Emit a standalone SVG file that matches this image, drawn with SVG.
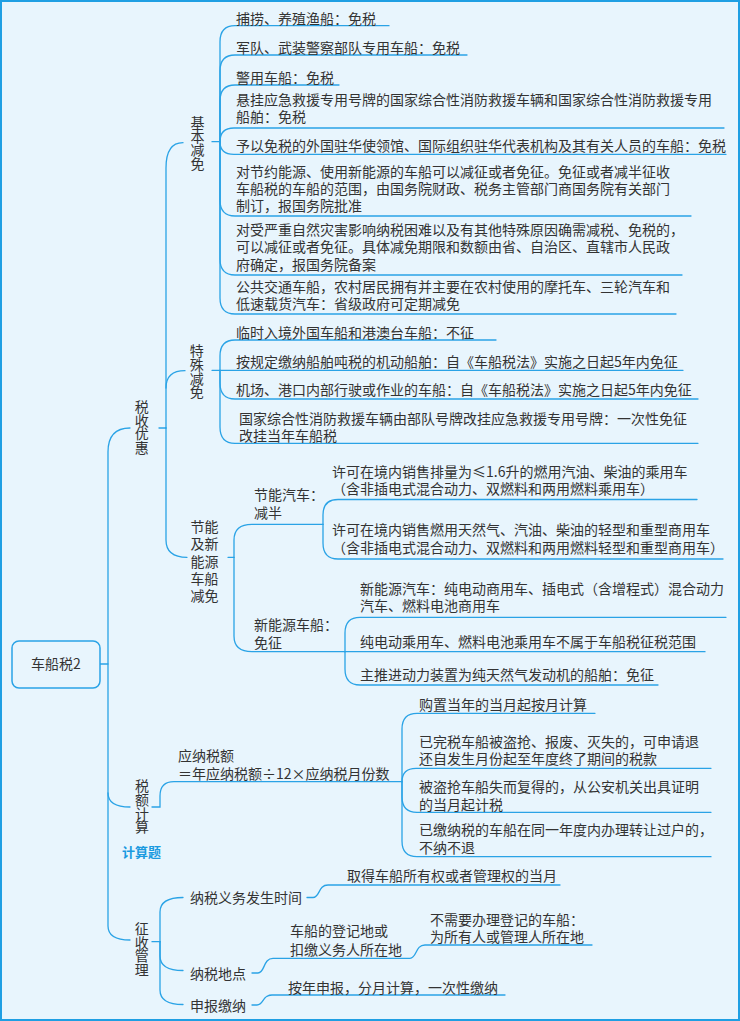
<svg xmlns="http://www.w3.org/2000/svg" width="740" height="1021" viewBox="0 0 740 1021">
<style>
.ln{fill:none;stroke:#2aa3e6;stroke-width:1.3;stroke-linecap:round}
.t{font-family:"Noto Sans CJK SC","Noto Sans",sans-serif;font-size:14px;fill:#333}
.v{writing-mode:vertical-rl;letter-spacing:-0.3px}
.tag{font-family:"Noto Sans CJK SC","Noto Sans",sans-serif;font-size:13px;font-weight:bold;fill:#1a9ae0}
</style>
<rect x="1" y="1" width="738" height="1019" fill="#e8f5fd" stroke="#1f9fe3" stroke-width="2"/>

<g id="connectors" class="ln">
<path d="M130,428 Q108,428 108,452 V926 Q108,940 130,940"/>
<path d="M100,664 H108"/>
<path d="M108,793 Q108,807 130,807"/>
<path d="M159,428 H166"/>
<path d="M166,428 V168 Q166,142.7 183,142.7"/>
<path d="M166,388 Q166,370.7 185,370.7"/>
<path d="M166,428 V540 Q166,557.3 187,557.3"/>
<path d="M212,141.7 H220 V41.7 Q220,25.7 235,25.7 H389"/>
<path d="M220,141.7 V71 Q220,55 235,55 H467"/>
<path d="M220,141.7 V101 Q220,85 235,85 H339"/>
<path d="M220,141.7 Q220,128 234,128 H724"/>
<path d="M220,141.7 Q220,154.3 234,154.3 H726"/>
<path d="M220,141.7 V200 Q220,216 235,216 H691"/>
<path d="M220,141.7 V259 Q220,275 235,275 H682"/>
<path d="M220,141.7 V298 Q220,314 235,314 H676"/>
<path d="M212,370.3 H683"/>
<path d="M220,370.3 V356 Q220,340 235,340 H496"/>
<path d="M220,370.3 V383 Q220,399 235,399 H698"/>
<path d="M220,370.3 V427 Q220,443.3 235,443.3 H698"/>
<path d="M228,557.3 H234"/>
<path d="M234,557.3 V540 Q234,524.3 252,524.3 H323"/>
<path d="M234,557.3 V636 Q234,651.7 252,651.7 H345"/>
<path d="M323,524.3 V515 Q323,499.5 338,499.5 H697"/>
<path d="M323,524.3 V543 Q323,559 338,559 H723"/>
<path d="M345,651.7 V633 Q345,617.3 360,617.3 H726"/>
<path d="M345,651.7 H705"/>
<path d="M345,651.7 V669 Q345,685 360,685 H658"/>
<path d="M152,807 H160 V796 Q160,781.7 174,781.7 H402"/>
<path d="M402,781.7 V729 Q402,713.3 417,713.3 H595"/>
<path d="M402,781.7 Q402,768.3 416,768.3 H711"/>
<path d="M402,781.7 V797 Q402,812.3 417,812.3 H711"/>
<path d="M402,781.7 V841 Q402,856.7 417,856.7 H711"/>
<path d="M152,941.7 H160"/>
<path d="M160,941.7 V912 Q160,897.5 183,897.5"/>
<path d="M160,941.7 V956 Q160,970.5 183,970.5"/>
<path d="M160,941.7 V990 Q160,1004.5 183,1004.5"/>
<path d="M307,897.5 H313 C320,897.5 318,885 328,885 H560"/>
<path d="M252,973 H258 C265,973 263,958.3 273,958.3 H410 C417,958.3 415,945 425,945 H592"/>
<path d="M252,1005 H257 C264,1005 262,995 272,995 H505"/>
</g>

<g id="root">
<rect x="12" y="641" width="88" height="47" rx="7" fill="#e8f5fd" stroke="#2aa3e6" stroke-width="1.5"/>
<text class="t" x="56" y="669" text-anchor="middle">车船税2</text>
</g>

<g id="n-shuishou"><text class="t v" x="141.7" y="399.5">税收优惠</text></g>
<g id="n-jiben"><text class="t v" x="197.5" y="115.5">基本减免</text></g>
<g id="n-teshu"><text class="t v" x="196.7" y="344">特殊减免</text></g>
<g id="n-jieneng"><text class="t"><tspan x="190.5" y="532.2">节能</tspan><tspan x="190.5" y="549.4">及新</tspan><tspan x="190.5" y="566.6">能源</tspan><tspan x="190.5" y="583.8">车船</tspan><tspan x="190.5" y="601">减免</tspan></text></g>

<g id="b1"><text class="t" x="236" y="23.7">捕捞、养殖渔船：免税</text></g>
<g id="b2"><text class="t" x="236" y="53.2">军队、武装警察部队专用车船：免税</text></g>
<g id="b3"><text class="t" x="236" y="83.2">警用车船：免税</text></g>
<g id="b4"><text class="t"><tspan x="236" y="104.5">悬挂应急救援专用号牌的国家综合性消防救援车辆和国家综合性消防救援专用</tspan><tspan x="236" y="121.9">船舶：免税</tspan></text></g>
<g id="b5"><text class="t" x="236" y="150.9">予以免税的外国驻华使领馆、国际组织驻华代表机构及其有关人员的车船：免税</text></g>
<g id="b6"><text class="t"><tspan x="236" y="177">对节约能源、使用新能源的车船可以减征或者免征。免征或者减半征收</tspan><tspan x="236" y="194.2">车船税的车船的范围，由国务院财政、税务主管部门商国务院有关部门</tspan><tspan x="236" y="211.4">制订，报国务院批准</tspan></text></g>
<g id="b7"><text class="t"><tspan x="236" y="235.2">对受严重自然灾害影响纳税困难以及有其他特殊原因确需减税、免税的，</tspan><tspan x="236" y="252.4">可以减征或者免征。具体减免期限和数额由省、自治区、直辖市人民政</tspan><tspan x="236" y="270.2">府确定，报国务院备案</tspan></text></g>
<g id="b8"><text class="t"><tspan x="236" y="292">公共交通车船，农村居民拥有并主要在农村使用的摩托车、三轮汽车和</tspan><tspan x="236" y="309.2">低速载货汽车：省级政府可定期减免</tspan></text></g>

<g id="s1"><text class="t" x="236" y="338">临时入境外国车船和港澳台车船：不征</text></g>
<g id="s2"><text class="t" x="236" y="367">按规定缴纳船舶吨税的机动船舶：自《车船税法》实施之日起5年内免征</text></g>
<g id="s3"><text class="t" x="236" y="395.2">机场、港口内部行驶或作业的车船：自《车船税法》实施之日起5年内免征</text></g>
<g id="s4"><text class="t"><tspan x="239" y="423.5">国家综合性消防救援车辆由部队号牌改挂应急救援专用号牌：一次性免征</tspan><tspan x="239" y="440.9">改挂当年车船税</tspan></text></g>

<g id="e1"><text class="t"><tspan x="254" y="500.3">节能汽车：</tspan><tspan x="254" y="517.5">减半</tspan></text></g>
<g id="e1a"><text class="t"><tspan x="332" y="476.8">许可在境内销售排量为≤1.6升的燃用汽油、柴油的乘用车</tspan><tspan x="332" y="494">（含非插电式混合动力、双燃料和两用燃料乘用车）</tspan></text></g>
<g id="e1b"><text class="t"><tspan x="332" y="535.2">许可在境内销售燃用天然气、汽油、柴油的轻型和重型商用车</tspan><tspan x="332" y="552.5">（含非插电式混合动力、双燃料和两用燃料轻型和重型商用车）</tspan></text></g>
<g id="e2"><text class="t"><tspan x="254" y="630.3">新能源车船：</tspan><tspan x="254" y="647.5">免征</tspan></text></g>
<g id="e2a"><text class="t"><tspan x="360" y="593.8">新能源汽车：纯电动商用车、插电式（含增程式）混合动力</tspan><tspan x="360" y="611">汽车、燃料电池商用车</tspan></text></g>
<g id="e2b"><text class="t" x="360" y="646.9">纯电动乘用车、燃料电池乘用车不属于车船税征税范围</text></g>
<g id="e2c"><text class="t" x="360" y="680.2">主推进动力装置为纯天然气发动机的船舶：免征</text></g>

<g id="n-shuie"><text class="t v" x="142" y="779">税额计算</text>
<text class="tag" x="122" y="856.5">计算题</text></g>
<g id="f0"><text class="t"><tspan x="178" y="761">应纳税额</tspan><tspan x="178" y="778.5">＝年应纳税额÷12×应纳税月份数</tspan></text></g>
<g id="f1"><text class="t" x="419" y="710.2">购置当年的当月起按月计算</text></g>
<g id="f2"><text class="t"><tspan x="419" y="746.9">已完税车船被盗抢、报废、灭失的，可申请退</tspan><tspan x="419" y="764.2">还自发生月份起至年度终了期间的税款</tspan></text></g>
<g id="f3"><text class="t"><tspan x="419" y="792.4">被盗抢车船失而复得的，从公安机关出具证明</tspan><tspan x="419" y="809.6">的当月起计税</tspan></text></g>
<g id="f4"><text class="t"><tspan x="419" y="835.2">已缴纳税的车船在同一年度内办理转让过户的，</tspan><tspan x="419" y="852.5">不纳不退</tspan></text></g>

<g id="n-zhengshou"><text class="t v" x="141.7" y="921.5">征收管理</text></g>
<g id="z1"><text class="t" x="190" y="903.2">纳税义务发生时间</text></g>
<g id="z1a"><text class="t" x="347" y="881.2">取得车船所有权或者管理权的当月</text></g>
<g id="z2"><text class="t" x="190" y="978.5">纳税地点</text></g>
<g id="z2a"><text class="t"><tspan x="290" y="936.2">车船的登记地或</tspan><tspan x="290" y="954.5">扣缴义务人所在地</tspan></text></g>
<g id="z2b"><text class="t"><tspan x="430" y="924.8">不需要办理登记的车船：</tspan><tspan x="430" y="942">为所有人或管理人所在地</tspan></text></g>
<g id="z3"><text class="t" x="190" y="1010.9">申报缴纳</text></g>
<g id="z3a"><text class="t" x="288" y="992.9">按年申报，分月计算，一次性缴纳</text></g>
</svg>
